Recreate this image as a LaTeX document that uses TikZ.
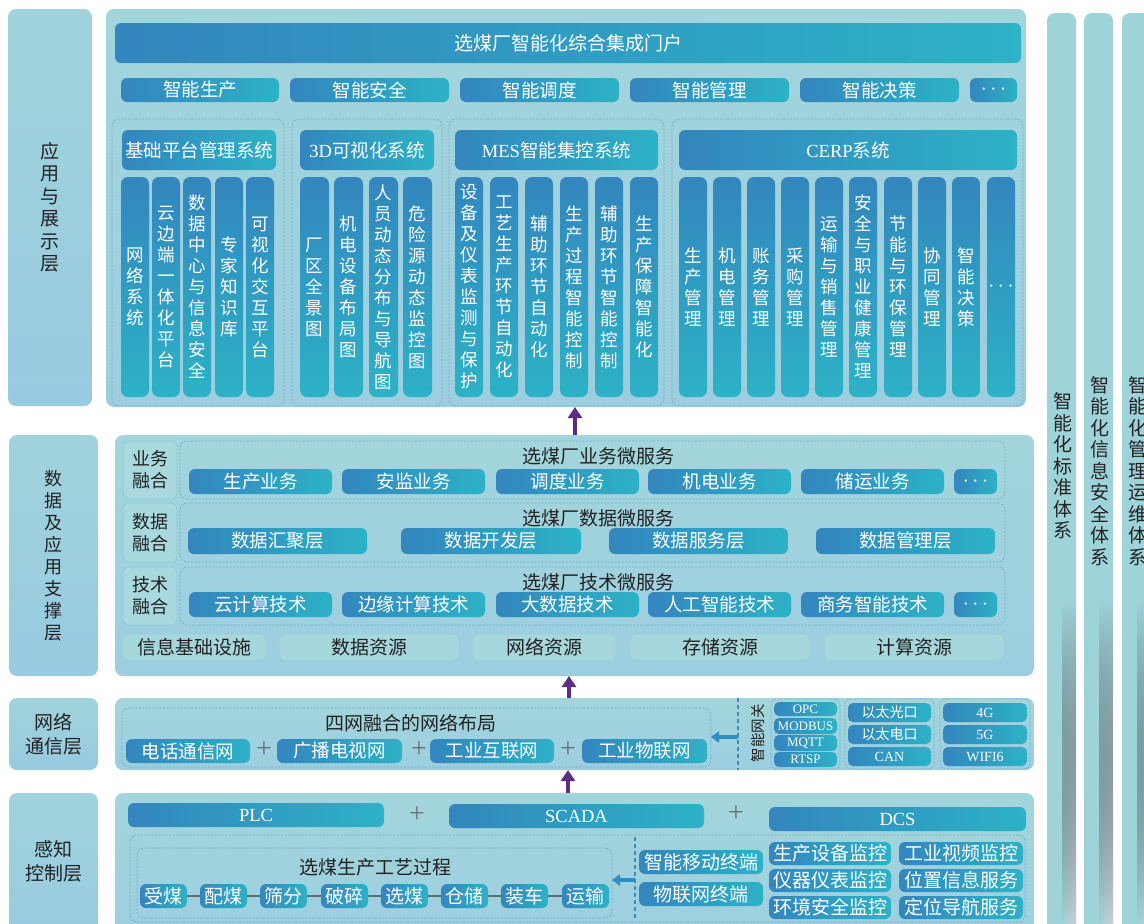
\documentclass[tikz,border=0pt]{standalone}
\usepackage{fontspec}
\setmainfont{Noto Sans CJK SC}
\newfontfamily\lat{Liberation Serif}
\usetikzlibrary{arrows.meta,fadings}
\definecolor{panelC}{HTML}{A3D5DC}
\definecolor{panelD}{HTML}{9CCEE0}
\definecolor{labC}{HTML}{A0D3DB}
\definecolor{labD}{HTML}{98CAE1}
\definecolor{btnA}{HTML}{3386BE}
\definecolor{btnB}{HTML}{2DB2C6}
\definecolor{lightC}{HTML}{A8D9DF}
\definecolor{lightB}{HTML}{8FCAD4}
\definecolor{resC}{HTML}{A6D7DD}
\definecolor{resB}{HTML}{96CFD8}
\definecolor{dashC}{HTML}{6FB2C4}
\definecolor{sepC}{HTML}{3B8DB8}
\definecolor{txtD}{HTML}{222222}
\definecolor{purp}{HTML}{5C2D86}
\definecolor{blueA}{HTML}{2B8FC6}
\definecolor{plusC}{HTML}{6A7378}
\definecolor{colC}{HTML}{9FD3DA}
\definecolor{colG}{HTML}{CFD0D4}
\definecolor{lineC}{HTML}{5E6E75}
\newcommand\myfs[2]{\fontsize{#1}{#2}\selectfont}
\newcommand\mybx[7]{\node[#1, minimum width={(#5)-(#3)}, minimum height={(#6)-(#4)}] (#2) at ({((#3)+(#5))/2},{((#4)+(#6))/2}) {#7};}
\newcommand\mydots{\scalebox{1.25}{$\cdots$}}
\tikzset{
 base/.style={inner sep=0pt, outer sep=0pt, align=center},
 panel/.style={base, top color=panelC, bottom color=panelD, rounded corners=8pt},
 labbox/.style={base, top color=labC, bottom color=labD, rounded corners=8pt, text=txtD},
 colbar/.style={base, fill=colC, rounded corners=8pt},
 hbtn/.style={base, left color=btnA, right color=btnB, rounded corners=6pt, text=white},
 vbtn/.style={base, top color=btnA, bottom color=btnB, rounded corners=7pt, text=white},
 dbox/.style={base, draw=dashC, dash pattern=on 2pt off 1.5pt, line width=0.7pt, rounded corners=7pt},
 lbox/.style={base, fill=lightC, draw=lightB, line width=0.6pt, rounded corners=6pt, text=txtD},
 rbox/.style={base, fill=resC, draw=resB, line width=0.5pt, rounded corners=6pt, text=txtD},
 txt/.style={base, text=txtD},
 plus/.style={base, text=plusC, font=\lat\myfs{28}{28}},
 parrow/.style={draw=purp, line width=4pt, -{Triangle[length=11pt,width=14pt]}},
 barrow/.style={draw=blueA, line width=3.5pt, -{Triangle[length=8pt,width=11pt]}},
 sepline/.style={draw=sepC, line width=1.2pt, dash pattern=on 4pt off 3pt},
 pline/.style={draw=lineC, line width=2.5pt},
 colfade/.style={left color=colC, right color=colG, path fading=north},
}
\begin{document}
\begin{tikzpicture}[x=1pt,y=-1pt]
\useasboundingbox (0,0) rectangle (1144,924);
\clip (0,0) rectangle (1144,924);
\fill[white] (0,0) rectangle (1144,924);

% ---------- right columns
\mybx{colbar}{C1}{1047}{13}{1076}{945}{}
\mybx{colbar}{C2}{1084}{13}{1113}{945}{}
\mybx{colbar}{C3}{1122}{13}{1165}{945}{}
\fill[colfade] (1062,600) rectangle (1076,924);
\fill[colfade] (1099,600) rectangle (1113,924);
\fill[colfade] (1137,600) rectangle (1165,924);
\node[txt,font=\myfs{19}{21.5}] (C1t) at (1063,466) {智\\能\\化\\标\\准\\体\\系};
\node[txt,font=\myfs{19}{21.5}] (C2t) at (1100,471) {智\\能\\化\\信\\息\\安\\全\\体\\系};
\node[txt,font=\myfs{19}{21.5}] (C3t) at (1138,471) {智\\能\\化\\管\\理\\运\\维\\体\\系};

% ---------- layer 1
\mybx{labbox,font=\myfs{19}{22.5}}{L1}{8}{9}{92}{406}{应\\用\\与\\展\\示\\层}
\mybx{panel}{M1}{106}{9}{1026}{407}{}
\mybx{hbtn,font=\myfs{19}{22}}{H}{115}{23}{1021}{63}{选煤厂智能化综合集成门户}
\foreach \a/\b/\t [count=\i] in {121/279/智能生产, 290/449/智能安全, 460/619/智能调度, 630/789/智能管理, 800/959/智能决策, 970/1017/{\mydots}}
  {\mybx{hbtn,font=\myfs{18.5}{20}}{s\i}{\a}{78}{\b}{102}{\t}}
\mybx{dbox}{G1}{112}{119}{284}{406}{}
\mybx{dbox}{G2}{292}{119}{442}{406}{}
\mybx{dbox}{G3}{449}{119}{664}{406}{}
\mybx{dbox}{G4}{672}{119}{1023}{406}{}
\mybx{hbtn,font=\myfs{18.5}{20}}{G1h}{122}{130}{276}{170}{基础平台管理系统}
\mybx{hbtn,font=\myfs{18.5}{20}}{G2h}{300}{130}{434}{170}{{\lat 3D}可视化系统}
\mybx{hbtn,font=\myfs{18.5}{20}}{G3h}{455}{130}{658}{170}{{\lat MES}智能集控系统}
\mybx{hbtn,font=\myfs{18.5}{20}}{G4h}{679}{130}{1017}{170}{{\lat CERP}系统}
\foreach \x/\t [count=\i] in {121/{网\\络\\系\\统}, 152/{云\\边\\端\\一\\体\\化\\平\\台}, 183/{数\\据\\中\\心\\与\\信\\息\\安\\全}, 215/{专\\家\\知\\识\\库}, 246/{可\\视\\化\\交\\互\\平\\台}}
  {\mybx{vbtn,font=\myfs{17.5}{21}}{ga\i}{\x}{177}{\x+28}{397}{\t}}
\foreach \x/\t [count=\i] in {300/{厂\\区\\全\\景\\图}, 334/{机\\电\\设\\备\\布\\局\\图}, 369/{人\\员\\动\\态\\分\\布\\与\\导\\航\\图}, 403/{危\\险\\源\\动\\态\\监\\控\\图}}
  {\mybx{vbtn,font=\myfs{17.5}{21}}{gb\i}{\x}{177}{\x+29}{397}{\t}}
\foreach \x/\t [count=\i] in {455/{设\\备\\及\\仪\\表\\监\\测\\与\\保\\护}, 490/{工\\艺\\生\\产\\环\\节\\自\\动\\化}, 525/{辅\\助\\环\\节\\自\\动\\化}, 560/{生\\产\\过\\程\\智\\能\\控\\制}, 595/{辅\\助\\环\\节\\智\\能\\控\\制}, 630/{生\\产\\保\\障\\智\\能\\化}}
  {\mybx{vbtn,font=\myfs{17.5}{21}}{gc\i}{\x}{177}{\x+28}{397}{\t}}
\foreach \x/\t [count=\i] in {679/{生\\产\\管\\理}, 713/{机\\电\\管\\理}, 747/{账\\务\\管\\理}, 781/{采\\购\\管\\理}, 815/{运\\输\\与\\销\\售\\管\\理}, 849/{安\\全\\与\\职\\业\\健\\康\\管\\理}, 884/{节\\能\\与\\环\\保\\管\\理}, 918/{协\\同\\管\\理}, 952/{智\\能\\决\\策}, 987/{\mydots}}
  {\mybx{vbtn,font=\myfs{17.5}{21}}{gd\i}{\x}{177}{\x+28}{397}{\t}}

% ---------- layer 2
\mybx{labbox,font=\myfs{18}{22}}{L2}{9}{435}{98}{676}{数\\据\\及\\应\\用\\支\\撑\\层}
\mybx{panel}{M2}{115}{435}{1034}{676}{}
\foreach \y/\z/\t [count=\i] in {441/499/{业务\\融合}, 503/562/{数据\\融合}, 567/625/{技术\\融合}} {
  \mybx{lbox,font=\myfs{18}{22}}{rl\i}{123}{\y}{177}{\z}{\t}
  \mybx{dbox}{rd\i}{180}{\y}{1005}{\z}{}
}
\node[txt,font=\myfs{19}{22}] (rt1) at (598,456) {选煤厂业务微服务};
\node[txt,font=\myfs{19}{22}] (rt2) at (598,518) {选煤厂数据微服务};
\node[txt,font=\myfs{19}{22}] (rt3) at (598,582) {选煤厂技术微服务};
\foreach \a/\b/\t [count=\i] in {189/332/生产业务, 342/485/安监业务, 496/639/调度业务, 648/791/机电业务, 801/944/储运业务, 954/997/{\mydots}}
  {\mybx{hbtn,font=\myfs{18.5}{20}}{ra\i}{\a}{469}{\b}{494}{\t}}
\foreach \a/\b/\t [count=\i] in {188/367/数据汇聚层, 401/581/数据开发层, 609/788/数据服务层, 816/995/数据管理层}
  {\mybx{hbtn,font=\myfs{18.5}{20}}{rb\i}{\a}{528}{\b}{554}{\t}}
\foreach \a/\b/\t [count=\i] in {189/332/云计算技术, 342/485/边缘计算技术, 496/639/大数据技术, 648/791/人工智能技术, 801/944/商务智能技术, 954/997/{\mydots}}
  {\mybx{hbtn,font=\myfs{18.5}{20}}{rc\i}{\a}{592}{\b}{617}{\t}}
\foreach \a/\b/\t [count=\i] in {122/266/信息基础设施, 279/459/数据资源, 473/616/网络资源, 630/810/存储资源, 824/1004/计算资源}
  {\mybx{rbox,font=\myfs{19}{21}}{re\i}{\a}{634}{\b}{660}{\t}}

% ---------- layer 3
\mybx{labbox,font=\myfs{19}{24}}{L3}{9}{698}{98}{770}{网络\\通信层}
\mybx{panel}{M3}{115}{698}{1034}{770}{}
\mybx{dbox}{N3d}{122}{708}{711}{767}{}
\node[txt,font=\myfs{19}{22}] (N3t) at (411,723) {四网融合的网络布局};
\foreach \a/\b/\t [count=\i] in {126/250/电话通信网, 277/402/广播电视网, 430/554/工业互联网, 582/707/工业物联网}
  {\mybx{hbtn,font=\myfs{18.5}{20}}{nb\i}{\a}{739}{\b}{763}{\t}}
\foreach \x [count=\i] in {264,419,568} {\node[plus] (np\i) at (\x,750) {+};}
\coordinate (gwt) at (738,698);
\coordinate (gwb) at (738,770);
\draw[sepline] (gwt) -- (gwb);
\coordinate (gws) at (738,737);
\draw[barrow] (gws) -- (gws -| N3d.east);
\node[txt,font=\myfs{14.5}{16},rotate=90] (gwl) at (758,733) {智能网关};
\mybx{dbox,rounded corners=5pt}{gA}{771}{699}{840}{769}{}
\foreach \y/\z/\t [count=\i] in {702/716/OPC, 718/734/MODBUS, 735/751/MQTT, 752/767/RTSP}
  {\mybx{hbtn,font=\lat\myfs{13}{14},rounded corners=5pt}{gp\i}{774}{\y}{837}{\z}{\t}}
\mybx{dbox,rounded corners=5pt}{gB}{845}{699}{934}{769}{}
\foreach \y/\z/\t [count=\i] in {703/722/以太光口, 725/744/以太电口, 747/766/{\lat CAN}}
  {\mybx{hbtn,font=\myfs{14}{15},rounded corners=5pt}{gq\i}{848}{\y}{931}{\z}{\t}}
\mybx{dbox,rounded corners=5pt}{gC}{940}{699}{1030}{769}{}
\foreach \y/\z/\t [count=\i] in {703/722/4G, 725/744/5G, 747/766/WIFI6}
  {\mybx{hbtn,font=\lat\myfs{14}{15},rounded corners=5pt}{gr\i}{943}{\y}{1027}{\z}{\t}}

% ---------- layer 4
\mybx{labbox}{L4}{9}{793}{98}{945}{}
\node[txt,font=\myfs{19}{24}] (L4t) at (53.5,861) {感知\\控制层};
\mybx{panel}{M4}{115}{793}{1034}{945}{}
\mybx{hbtn,font=\lat\myfs{18.5}{20}}{plc}{128}{803}{384}{827}{PLC}
\node[plus] (kp1) at (417,815) {+};
\mybx{hbtn,font=\lat\myfs{18.5}{20}}{scada}{449}{804}{704}{828}{SCADA}
\node[plus] (kp2) at (736,814) {+};
\mybx{hbtn,font=\lat\myfs{18.5}{20}}{dcs}{769}{807}{1026}{831}{DCS}
\mybx{dbox}{P4o}{130}{835}{1025}{922}{}
\coordinate (s4t) at (635,837);
\coordinate (s4b) at (635,920);
\draw[sepline] (s4t) -- (s4b);
\mybx{dbox}{P4i}{137}{848}{612}{918}{}
\node[txt,font=\myfs{19}{22}] (P4t) at (375,867) {选煤生产工艺过程};
\foreach \x/\t [count=\i] in {140/受煤, 200/配煤, 260/筛分, 321/破碎, 381/选煤, 441/仓储, 501/装车, 562/运输}
  {\mybx{hbtn,font=\myfs{19}{20}}{pp\i}{\x}{884}{\x+47}{908}{\t}}
\foreach \i [evaluate=\i as \j using {int(\i+1)}] in {1,...,7} {\draw[pline] (pp\i) -- (pp\j);}
\coordinate (a4s) at (635,880);
\draw[barrow] (a4s) -- (a4s -| P4i.east);
\mybx{hbtn,font=\myfs{19}{20}}{tm1}{639}{850}{763}{874}{智能移动终端}
\mybx{hbtn,font=\myfs{19}{20}}{tm2}{639}{882}{763}{906}{物联网终端}
\foreach \y/\z/\ta/\tb [count=\i] in {842/865/生产设备监控/工业视频监控, 869/892/仪器仪表监控/位置信息服务, 896/919/环境安全监控/定位导航服务}
  {\mybx{hbtn,font=\myfs{19}{20}}{mo\i}{769}{\y}{891}{\z}{\ta}
   \mybx{hbtn,font=\myfs{19}{20}}{mt\i}{899}{\y}{1023}{\z}{\tb}}

% ---------- arrows between layers
\coordinate (a1) at (575,0);
\coordinate (a2) at (569,0);
\coordinate (a3) at (568,0);
\draw[parrow] (M2.north -| a1) -- (M1.south -| a1);
\draw[parrow] (M3.north -| a2) -- (M2.south -| a2);
\draw[parrow] (M4.north -| a3) -- (M3.south -| a3);
\end{tikzpicture}
\end{document}
